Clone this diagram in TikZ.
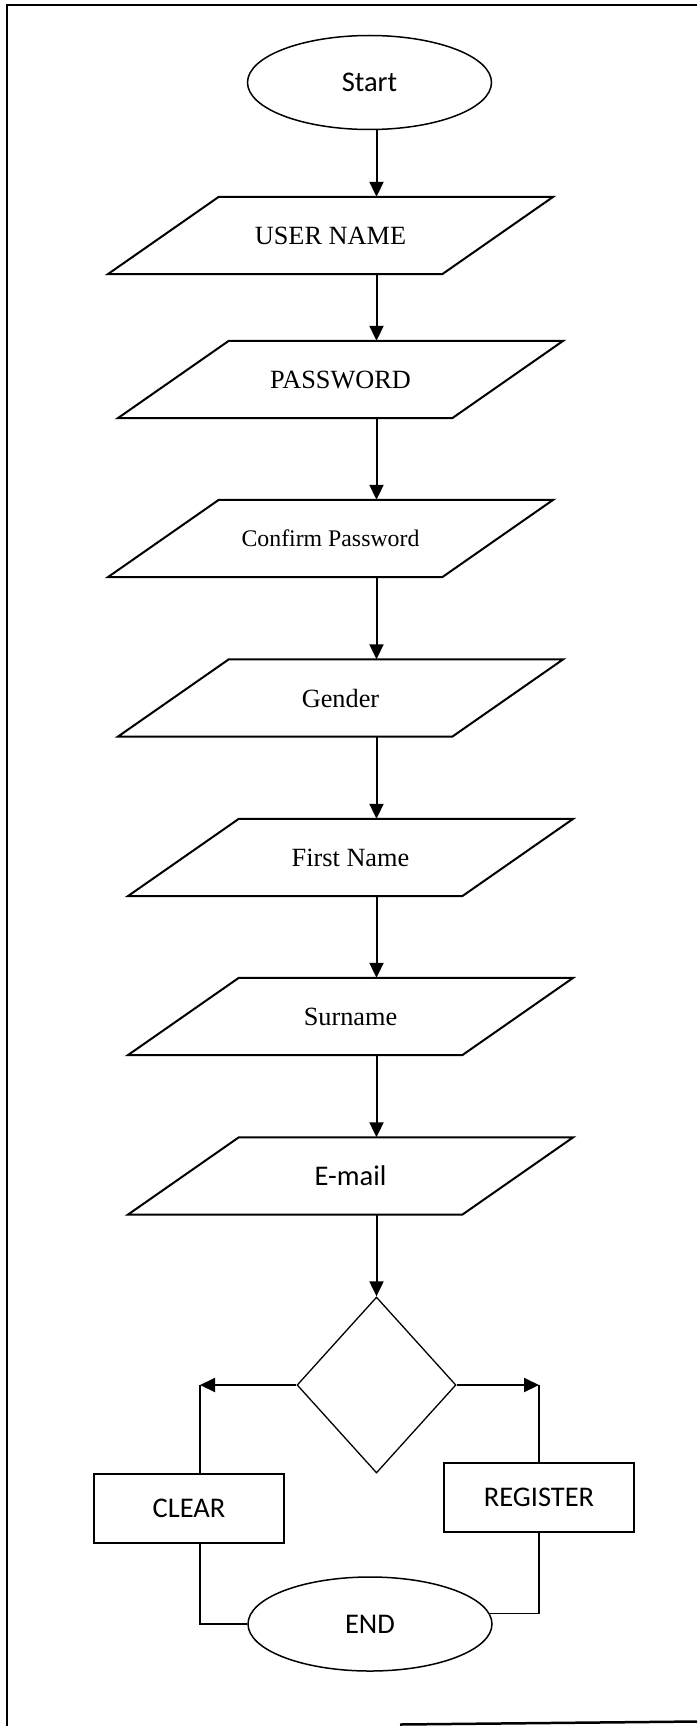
\documentclass[tikz,border=0pt]{standalone}
\usepackage{fontspec}
\setmainfont{Liberation Serif}
\newfontfamily\calibri{Carlito}
\usetikzlibrary{shapes.geometric,arrows.meta}

\begin{document}
\begin{tikzpicture}
        [x=1pt, y=1pt,
        term/.style={ellipse, draw, line width=1.5pt, minimum width=244pt, minimum height=94pt, inner sep=0pt, font=\calibri\fontsize{28.5}{34}\selectfont},
        io/.style={minimum width=334pt, minimum height=77pt, inner sep=0pt, font=\fontsize{26.3}{30}\selectfont,
            append after command={\pgfextra{\draw[line width=2pt]
                ([xshift=55.5pt]\tikzlastnode.north west) -- ([xshift=55.5pt]\tikzlastnode.north east)
                -- ([xshift=-55.5pt]\tikzlastnode.south east) -- ([xshift=-55.5pt]\tikzlastnode.south west) -- cycle;}}},
        decision/.style={diamond, draw, line width=1.3pt, minimum width=159pt, minimum height=176pt, inner sep=0pt},
        box/.style={rectangle, draw, line width=1.5pt, minimum width=190pt, minimum height=69pt, font=\calibri\fontsize{28.5}{34}\selectfont},
        arr/.style={line width=2pt, -{Triangle[length=15pt, width=14pt]}},
        link/.style={line width=1.5pt}]
        \useasboundingbox (0,0) rectangle (697,-1726);

        % page frame
        \draw[line width=2pt] (7,-1726) -- (7,-5) -- (697,-5);
        \draw[line width=2.5pt] (400,-1724.5) -- (697,-1721.5);

        \node[term] (start) at (369.5,-82.5) {Start};
        \node[io] (user) at (330.5,-235.5) {USER NAME};
        \node[io] (pass) at (340.5,-379.5) {PASSWORD};
        \node[io, font=\fontsize{23.8}{28}\selectfont] (confirm) at (330.5,-538.5) {Confirm Password};
        \node[io] (gender) at (340.5,-698) {Gender};
        \node[io] (first) at (350.5,-857.5) {First Name};
        \node[io] (sur) at (350.5,-1016.5) {Surname};
        \node[io, font=\calibri\fontsize{28.5}{34}\selectfont] (mail) at (350.5,-1176) {E-mail};
        \node[decision] (check) at (376.5,-1385) {};
        \node[box] (clear) at (189,-1508.5) {CLEAR};
        \node[box] (reg) at (539,-1497.5) {REGISTER};
        \node[term] (stop) at (370,-1624) {END};

        \coordinate (lft) at (200,-1385);
        \coordinate (rgt) at (539,-1385);

        \draw[arr] (start.south -| check.north) -- (user.north -| check.north);
        \draw[arr] (user.south -| check.north) -- (pass.north -| check.north);
        \draw[arr] (pass.south -| check.north) -- (confirm.north -| check.north);
        \draw[arr] (confirm.south -| check.north) -- (gender.north -| check.north);
        \draw[arr] (gender.south -| check.north) -- (first.north -| check.north);
        \draw[arr] (first.south -| check.north) -- (sur.north -| check.north);
        \draw[arr] (sur.south -| check.north) -- (mail.north -| check.north);
        \draw[arr] (mail.south -| check.north) -- (check.north);

        \draw[arr] (check.west) -- (lft);
        \draw[arr] (check.east) -- (rgt);
        \draw[link] (lft) -- (lft |- clear.north);
        \draw[link] (lft |- clear.south) -- (lft |- stop.west) -- (stop.west);
        \draw[link] (rgt) -- (reg.north);
        \draw[link] (reg.south) -- (reg.south |- stop.5) -- (stop.5);

    \end{tikzpicture}
\end{document}
